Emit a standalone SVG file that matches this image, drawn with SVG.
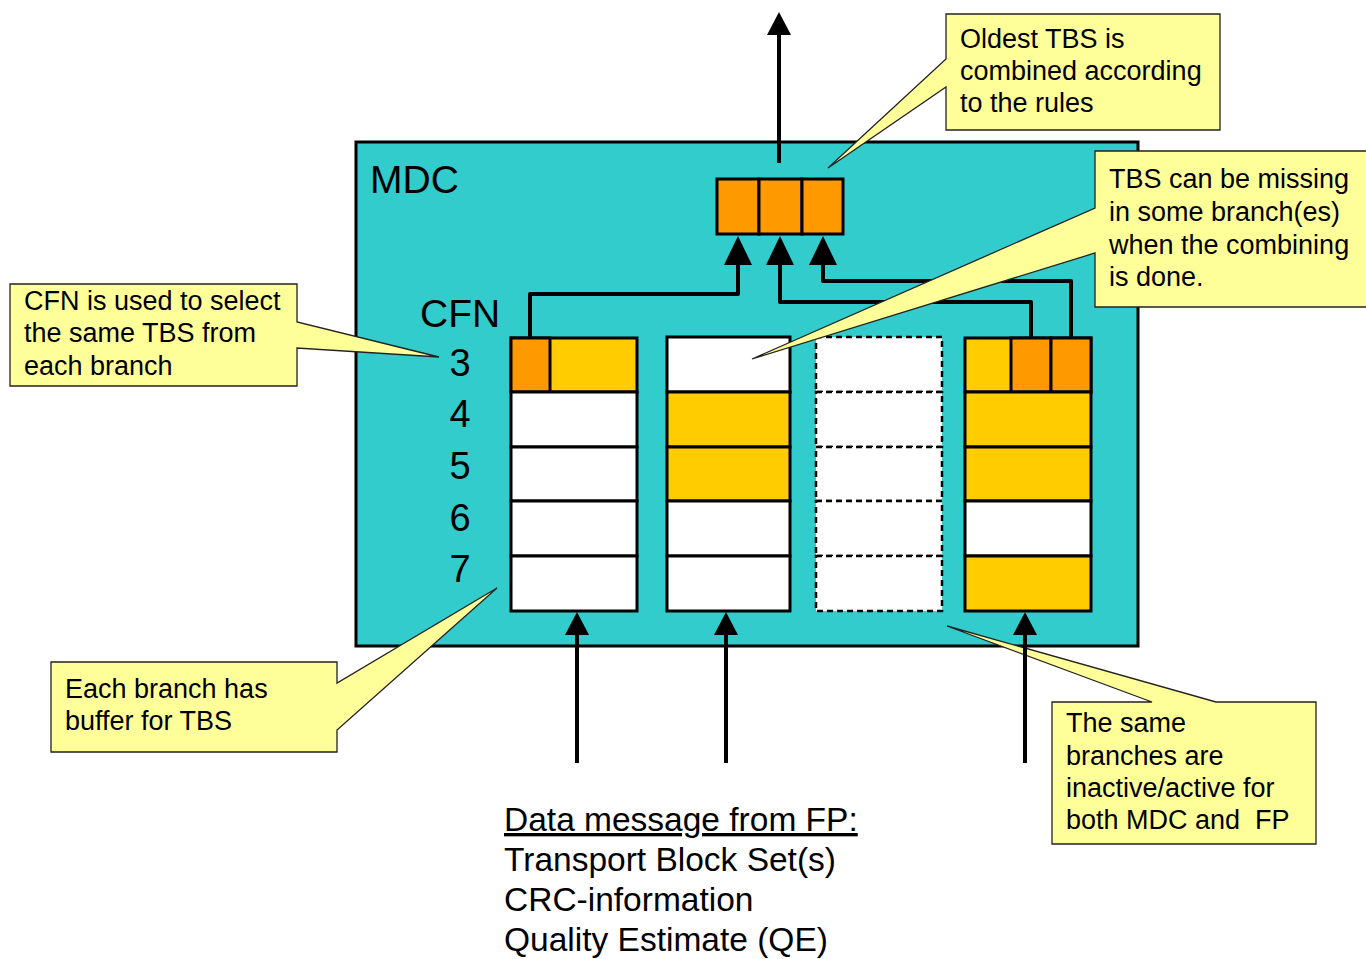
<svg xmlns="http://www.w3.org/2000/svg" width="1366" height="959" viewBox="0 0 1366 959">
<style>
text{font-family:"Liberation Sans",Arial,sans-serif;fill:#000}
.co{fill:#FFFF99;stroke:#222;stroke-width:1.3}
.ct{font-size:27px}
.big{font-size:39px}
.num{font-size:38px;text-anchor:middle}
.cell{stroke:#000;stroke-width:3}
.w{fill:#fff}
.y{fill:#FFCC00}
.o{fill:#FF9900}
.dash{fill:#fff;stroke:#000;stroke-width:2.5;stroke-dasharray:6 4}
.conn{fill:none;stroke:#000;stroke-width:4;stroke-linejoin:round}
.bt{font-size:33.5px}
</style>
<defs>
<marker id="ahL" markerUnits="userSpaceOnUse" markerWidth="40" markerHeight="40" refX="0" refY="14" orient="auto" viewBox="0 0 40 40">
<path d="M0,0 L29,14 L0,28 Z" fill="#000"/>
</marker>
<marker id="ahS" markerUnits="userSpaceOnUse" markerWidth="40" markerHeight="40" refX="0" refY="12" orient="auto" viewBox="0 0 40 40">
<path d="M0,0 L23,12 L0,24 Z" fill="#000"/>
</marker>
</defs>

<g id="mdc">
<rect x="356" y="142" width="782" height="504" fill="#33CCCC" stroke="#000" stroke-width="3"/>
<text class="big" x="370" y="193">MDC</text>
</g>

<g id="cfn-labels">
<text class="big" x="420" y="327">CFN</text>
<text class="num" x="460" y="376">3</text>
<text class="num" x="460" y="427">4</text>
<text class="num" x="460" y="479">5</text>
<text class="num" x="460" y="531">6</text>
<text class="num" x="460" y="582">7</text>
</g>

<g id="branch1">
<rect class="cell y" x="511" y="338" width="126" height="54"/>
<rect class="cell o" x="511" y="338" width="39" height="54"/>
<rect class="cell w" x="511" y="392" width="126" height="55"/>
<rect class="cell w" x="511" y="447" width="126" height="54"/>
<rect class="cell w" x="511" y="501" width="126" height="55"/>
<rect class="cell w" x="511" y="556" width="126" height="55"/>
</g>

<g id="branch2">
<rect class="cell w" x="667" y="337" width="123" height="55"/>
<rect class="cell y" x="667" y="392" width="123" height="55"/>
<rect class="cell y" x="667" y="447" width="123" height="54"/>
<rect class="cell w" x="667" y="501" width="123" height="55"/>
<rect class="cell w" x="667" y="556" width="123" height="55"/>
</g>

<g id="branch3">
<rect class="dash" x="816" y="337" width="126" height="55"/>
<rect class="dash" x="816" y="392" width="126" height="55"/>
<rect class="dash" x="816" y="447" width="126" height="54"/>
<rect class="dash" x="816" y="501" width="126" height="55"/>
<rect class="dash" x="816" y="556" width="126" height="55"/>
</g>

<g id="branch4">
<rect class="cell y" x="965" y="338" width="126" height="54"/>
<rect class="cell o" x="1011" y="338" width="40" height="54"/>
<rect class="cell o" x="1051" y="338" width="40" height="54"/>
<rect class="cell y" x="965" y="392" width="126" height="55"/>
<rect class="cell y" x="965" y="447" width="126" height="54"/>
<rect class="cell w" x="965" y="501" width="126" height="55"/>
<rect class="cell y" x="965" y="556" width="126" height="55"/>
</g>

<g id="combined">
<rect class="cell o" x="717" y="179" width="42" height="55"/>
<rect class="cell o" x="759" y="179" width="43" height="55"/>
<rect class="cell o" x="802" y="179" width="41" height="55"/>
</g>

<g id="connectors">
<path class="conn" d="M779,163 V35" marker-end="url(#ahS)"/>
<path class="conn" d="M530,338 V294 H738 V265" marker-end="url(#ahL)"/>
<path class="conn" d="M1031,338 V302 H780 V265" marker-end="url(#ahL)"/>
<path class="conn" d="M1071,338 V281 H823 V265" marker-end="url(#ahL)"/>
</g>

<g id="callout-oldest">
<path class="co" d="M946,14 H1220 V130 H946 V87 L828,168 L946,59 Z"/>
<text class="ct" x="960" y="48">Oldest TBS is</text>
<text class="ct" x="960" y="80">combined according</text>
<text class="ct" x="960" y="112">to the rules</text>
</g>

<g id="callout-missing">
<path class="co" d="M1095,151 H1370 V307 H1095 V253 L752,359 L1095,208 Z"/>
<text class="ct" x="1109" y="188">TBS can be missing</text>
<text class="ct" x="1109" y="221">in some branch(es)</text>
<text class="ct" x="1109" y="254">when the combining</text>
<text class="ct" x="1109" y="286">is done.</text>
</g>

<g id="callout-cfn">
<path class="co" d="M10,284 H297 V322 L439,357 L297,348 V386 H10 Z"/>
<text class="ct" x="24" y="310">CFN is used to select</text>
<text class="ct" x="24" y="342">the same TBS from</text>
<text class="ct" x="24" y="375">each branch</text>
</g>

<g id="callout-buffer">
<path class="co" d="M51,662 H337 V683 L497,588 L337,730 V752 H51 Z"/>
<text class="ct" x="65" y="698">Each branch has</text>
<text class="ct" x="65" y="730">buffer for TBS</text>
</g>

<g id="callout-same">
<path class="co" d="M1052,702 H1152 L947,626 L1216,702 H1316 V844 H1052 Z"/>
<text class="ct" x="1066" y="732">The same</text>
<text class="ct" x="1066" y="765">branches are</text>
<text class="ct" x="1066" y="797">inactive/active for</text>
<text class="ct" x="1066" y="829" style="white-space:pre" xml:space="preserve">both MDC and  FP</text>
</g>

<g id="input-arrows">
<path class="conn" d="M577,763 V635" marker-end="url(#ahS)"/>
<path class="conn" d="M726,763 V635" marker-end="url(#ahS)"/>
<path class="conn" d="M1025,763 V635" marker-end="url(#ahS)"/>
</g>

<g id="data-message">
<text class="bt" x="504" y="831" text-decoration="underline">Data message from FP:</text>
<text class="bt" x="504" y="871">Transport Block Set(s)</text>
<text class="bt" x="504" y="911">CRC-information</text>
<text class="bt" x="504" y="951">Quality Estimate (QE)</text>
</g>
</svg>
